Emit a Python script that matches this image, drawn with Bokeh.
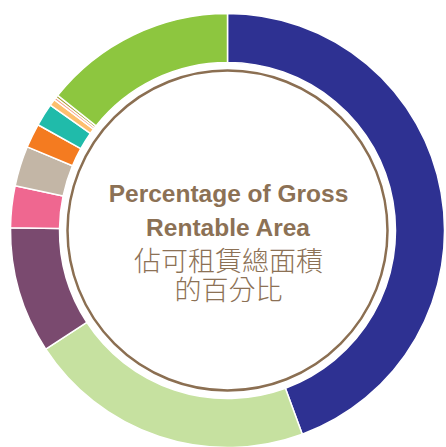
import numpy as np
from bokeh.plotting import figure
from bokeh.models import Range1d, ColumnDataSource
from bokeh.core.properties import value
from bokeh.embed import file_html
from bokeh.resources import INLINE

# Data (clockwise from 12 o'clock)
categories = ["Blue", "Light green", "Purple", "Pink", "Beige", "Orange", "Teal",
              "Light orange", "Salmon", "Olive", "Green"]
shares = [44.4, 21.4, 9.4, 3.1, 3.0, 1.8, 1.7, 0.5, 0.2, 0.2, 14.3]
colors = ["#2E3192", "#C6E1A0", "#7A4A6F", "#EF6790", "#C3B6A6", "#F47B20",
          "#20BBAA", "#FDBF6F", "#F4A08A", "#A8A035", "#8DC63F"]
title_en = ["Percentage of Gross", "Rentable Area"]
title_zh = ["佔可租賃總面積", "的百分比"]

W, H = 446, 447
p = figure(width=W, height=H, output_backend="svg", toolbar_location=None,
           x_range=Range1d(-227, 219), y_range=Range1d(-217, 230),
           min_border=0)
p.axis.visible = False
p.grid.visible = False
p.outline_line_color = None
p.background_fill_color = "white"

total = sum(shares)
cum = np.cumsum([0] + shares) / total
start = [np.pi / 2 - 2 * np.pi * c for c in cum[:-1]]
end = [np.pi / 2 - 2 * np.pi * c for c in cum[1:]]

src = ColumnDataSource(dict(cat=categories, start=start, end=end, color=colors))
p.annular_wedge(x=0, y=0, inner_radius=168, outer_radius=217,
                start_angle="start", end_angle="end", direction="clock",
                fill_color="color", line_color="white", line_width=1.5,
                source=src)

p.circle(x=[0], y=[0], radius=160, fill_color=None, line_color="#8B6F52",
         line_width=2.5)

txt = "#8C7155"
p.text(x=[1, 1], y=[37, 3], text=title_en, text_align="center",
       text_baseline="middle", text_font=value("Liberation Sans"),
       text_font_style="bold", text_font_size="24.5px", text_color=txt)
p.text(x=[1, 1], y=[-29, -58], text=title_zh, text_align="center",
       text_baseline="middle",
       text_font=value("Noto Sans CJK TC Light"),
       text_font_size="27px", text_color="#8C7155")

open("out.html", "w").write(file_html(p, INLINE))
